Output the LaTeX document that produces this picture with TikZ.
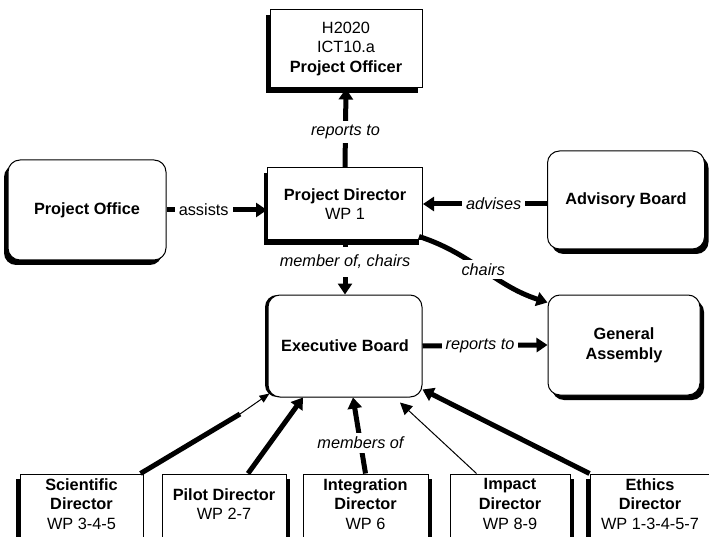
\documentclass[tikz,border=0pt]{standalone}
\usepackage{fontspec}
\setmainfont{Liberation Sans}
\usetikzlibrary{arrows.meta,shadows,calc}
\begin{document}
\begin{tikzpicture}[x=1pt,y=-1pt,
  every node/.style={font=\fontsize{16.3}{19.8}\selectfont, align=center},
  box/.style={draw, line width=1pt, fill=white, inner sep=0pt},
  shl/.style={drop shadow={shadow xshift=-4pt, shadow yshift=-5pt, opacity=1, fill=black}},
  shr/.style={drop shadow={shadow xshift=4pt, shadow yshift=-5pt, opacity=1, fill=black}},
  shs/.style={drop shadow={shadow xshift=-3pt, shadow yshift=0pt, opacity=1, fill=black}},
  rbox/.style={box, rounded corners=12pt},
  lab/.style={fill=white, inner sep=4pt, font=\fontsize{16.3}{19.8}\selectfont\itshape},
  labu/.style={fill=white, inner sep=4pt, font=\fontsize{16.3}{19.8}\selectfont},
  thk/.style={line width=5pt, -{Triangle[width=14pt,length=11pt]}},
  thn/.style={line width=1pt, -{Triangle[width=8pt,length=10pt]}},
  txt/.style={inner sep=0pt},
]
\useasboundingbox (0,0) rectangle (709,537);

% top boxes
\node[box, shl, minimum width=152pt, minimum height=78pt] (po) at (346,49)
  {H2020\\ICT10.a\\\textbf{Project Officer}};
\node[box, shl, minimum width=155pt, minimum height=72pt] (pd) at (345,204)
  {\textbf{Project Director}\\WP 1};
\node[rbox, shl, minimum width=158pt, minimum height=100pt] (pof) at (87,210)
  {\textbf{Project Office}};
\node[rbox, shr, minimum width=157pt, minimum height=98pt] (ab) at (626,200)
  {\textbf{Advisory Board}};
\node[rbox, shs, minimum width=154pt, minimum height=102pt] (eb) at (345,346)
  {\textbf{Executive Board}};
\node[rbox, shr, minimum width=152pt, minimum height=100pt] (ga) at (624,345)
  {\textbf{General}\\\textbf{Assembly}};

% bottom boxes
\node[box, shl, minimum width=123pt, minimum height=74pt] (sci) at (81.5,511) {};
\node[box, shr, minimum width=124pt, minimum height=74pt] (pil) at (224,511) {};
\node[box, shr, minimum width=125pt, minimum height=74pt] (int) at (365.5,511) {};
\node[box, shr, minimum width=120pt, minimum height=74pt] (imp) at (510,511) {};
\node[box, shl, minimum width=120pt, minimum height=74pt] (eth) at (650,511) {};
\node[txt] (scit) at (81.5,504) {\textbf{Scientific}\\\textbf{Director}\\WP 3-4-5};
\node[txt] (pilt) at (224,504) {\textbf{Pilot Director}\\WP 2-7};
\node[txt] (intt) at (365.5,504) {\textbf{Integration}\\\textbf{Director}\\WP 6};
\node[txt] (impt) at (510,504) {\textbf{Impact}\\\textbf{Director}\\WP 8-9};
\node[txt] (etht) at (650,504) {\textbf{Ethics}\\\textbf{Director}\\WP 1-3-4-5-7};

% connectors
\draw[thk] (pd.north) -- node[lab, pos=0.45]{reports to} (po.south);
\draw[thk] (pof.east) -- node[labu, pos=0.37]{assists} (pof.east -| pd.west);
\draw[thk] (ab.west |- pd.east) -- node[lab, pos=0.43]{advises} (pd.east);
\draw[thk] ([xshift=-4pt,yshift=4pt]pd.south east) to[out=-18,in=162]
  node[lab]{chairs} ([yshift=-8pt]ga.north west);
\draw[thk] (pd.south) -- node[lab, pos=0.4, inner ysep=8pt]{member of, chairs} (eb.north);
\draw[thk] (eb.east) -- node[lab, pos=0.46]{reports to} (ga.west);

\coordinate (sk) at (240,414);
\draw[line width=5pt] ([xshift=-3pt]sci.north east) -- (sk);
\draw[thn] (sk) -- ([xshift=2pt,yshift=4pt]eb.south west);
\draw[thk] ([xshift=24pt]pil.north) -- ([xshift=-42pt]eb.south);
\draw[thk] (int.north) -- node[lab, pos=0.4]{members of} ([xshift=8pt]eb.south);
\draw[line width=1pt, -{Triangle[width=12pt,length=12pt]}] ([xshift=27pt]imp.north west) -- ([xshift=55pt,yshift=-5pt]eb.south);
\draw[thk] (eth.north west) -- ([yshift=8pt]eb.south east);
\end{tikzpicture}
\end{document}
